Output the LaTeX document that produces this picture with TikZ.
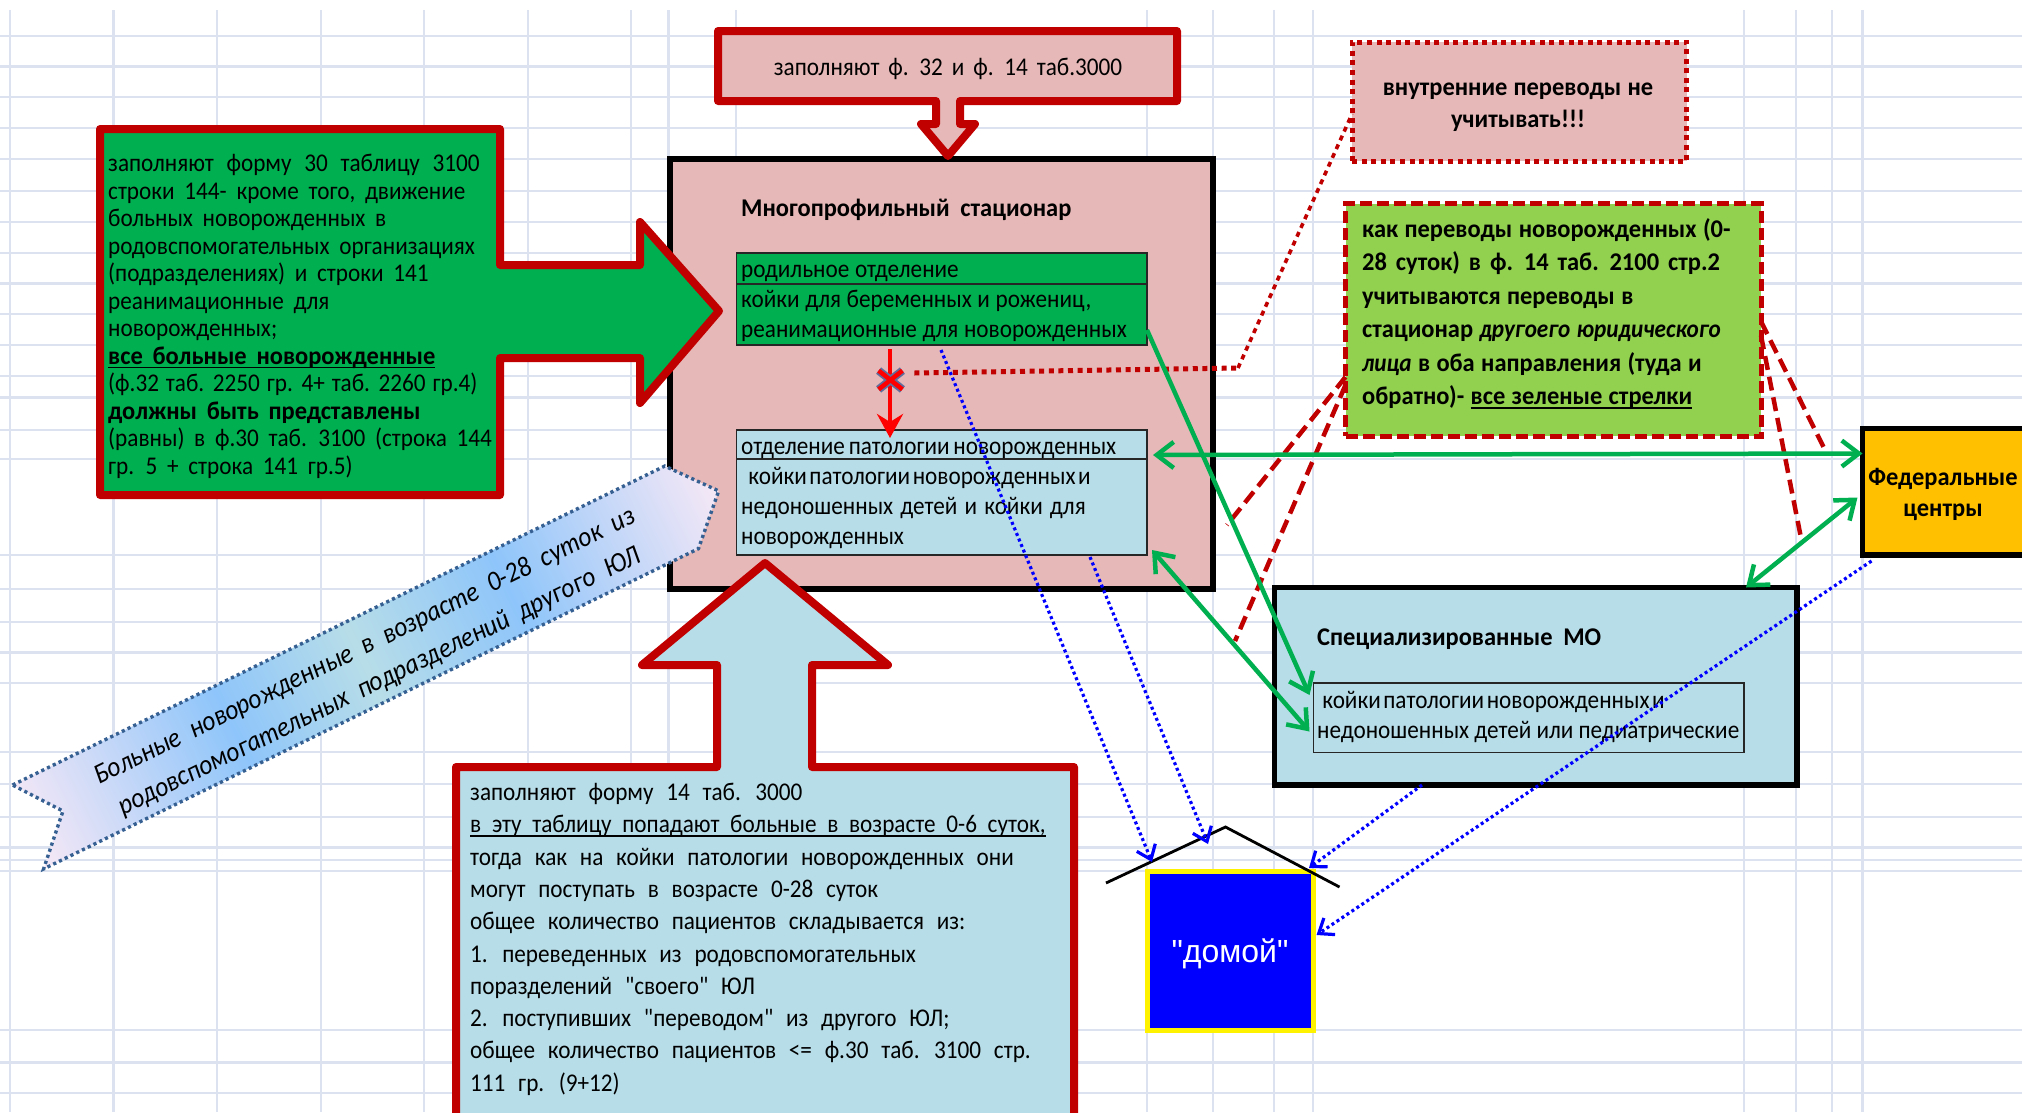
\documentclass[tikz,border=0pt]{standalone}
\usepackage{fontspec}
\setmainfont{Carlito}[FakeStretch=0.91,BoldFeatures={FakeStretch=0.96}]
\newfontfamily\arialfont{Liberation Sans}
\newfontfamily\plainfam{Carlito}[FakeStretch=0.91]
\usetikzlibrary{arrows.meta}
\usetikzlibrary{shapes.misc}
\definecolor{gridline}{HTML}{DCE2EF}
\definecolor{cardred}{HTML}{C00000}
\definecolor{rosefill}{HTML}{E6B8B7}
\definecolor{leaf}{HTML}{00B050}
\definecolor{lime}{HTML}{92D050}
\definecolor{sky}{HTML}{B7DDE8}
\definecolor{amber}{HTML}{FFC000}
\definecolor{slate}{HTML}{366092}
\definecolor{crossedge}{HTML}{5F6C9C}
\definecolor{fadeend}{HTML}{F6E8F6}
\definecolor{fademid}{HTML}{8EC5FA}
\newcommand{\ultext}[1]{\leavevmode\setbox0\hbox{#1}\rlap{\vrule height -2.6pt depth 4.4pt width \wd0}\box0}
\newcommand{\sizedfont}[3]{\fontsize{#1}{#2}\selectfont\spaceskip #3\relax}
\newcommand{\wsp}[2]{{\spaceskip #1\relax #2}}
\newcommand{\sq}{{\plainfam\symbol{34}}}
\pgfdeclarehorizontalshading{ribbonfade}{100bp}{color(0bp)=(fadeend); color(25bp)=(fadeend); color(40bp)=(fademid); color(49.5bp)=(sky); color(60bp)=(fademid); color(75bp)=(fadeend); color(100bp)=(fadeend)}
\tikzset{
  plainbox/.style={rectangle,anchor=north west,inner sep=0pt,outer sep=0pt},
  blackbox/.style={plainbox,draw=black,line width=5.5pt},
  tablebox/.style={plainbox,draw=black!85,line width=1.8pt},
  callout/.style={draw=cardred,line width=8pt,line join=round},
  txt/.style={anchor=north west,inner sep=0pt,align=left,font=\sizedfont{25.5}{27.5}{.38em}},
  boldtxt/.style={txt,font=\sizedfont{25.5}{27.5}{.42em}\bfseries},
  dottedred/.style={draw=cardred,dash pattern=on 5pt off 4.6pt},
  dashedred/.style={draw=cardred,line width=4.5pt,dash pattern=on 14pt off 7pt},
  greenline/.style={draw=leaf,line width=4.5pt},
  greenone/.style={greenline,-{Straight Barb[length=17pt,width=26pt]}},
  greenboth/.style={greenline,{Straight Barb[length=17pt,width=26pt]}-{Straight Barb[length=17pt,width=26pt]}},
  bluedot/.style={draw=blue,line width=3.2pt,dash pattern=on 3pt off 3pt,-{Straight Barb[length=13pt,width=20pt]}}
}
\begin{document}
\begin{tikzpicture}[x=1pt,y=-1pt]
\clip (0,0) rectangle (2022,1112);
\fill[white] (0,0) rectangle (2022,1112);
% grid of the sheet
\foreach \gy in {36,66.5,97,128,159,191,222,253,283.5,314,345,376,397.5,430,459,555,589,622,652.5,683,752,784,817,847.5,860,871,1030,1062.5,1093}
  \draw[gridline,line width=2.4pt] (0,\gy) -- (2022,\gy);
\foreach \gx in {10,113.5,217,321,424,528,631,668.5,736,1147,1213,1274,1313,1744,1796,1832,1862.5}
  \draw[gridline,line width=2.4pt] (\gx,10) -- (\gx,1112);

% hospital
\node[blackbox,fill=rosefill,minimum width=543pt,minimum height=430pt] (hospital) at (670,159) {};
\node[boldtxt] (hospitaltitle) at (741,199) {Многопрофильный  стационар};
\node[tablebox,fill=leaf,minimum width=410.5pt,minimum height=92pt] (birthtbl) at (736.5,253) {};
\draw[black!85,line width=1.8pt] ([yshift=-31pt]birthtbl.north west) -- ([yshift=-31pt]birthtbl.north east);
\node[txt,font=\sizedfont{25.5}{30}{.22em}] (birthtxt) at (741,265) {родильное  отделение\\койки  для  беременных  и  рожениц,\\реанимационные  для  новорожденных};
\node[tablebox,fill=sky,minimum width=410.5pt,minimum height=125pt] (pathtbl) at (736.5,430) {};
\draw[black!85,line width=1.8pt] ([yshift=-29pt]pathtbl.north west) -- ([yshift=-29pt]pathtbl.north east);
\node[txt,font=\sizedfont{25.5}{30}{.28em}] (pathtxt) at (741,442) {\wsp{.15em}{отделение  патологии  новорожденных}\\\ \wsp{.1em}{койки патологии новорожденных и}\\недоношенных детей  и  койки  для\\новорожденных};

% green callout
\draw[callout,fill=leaf] (100,129) -- (500,129) -- (500,265) -- (640,265) -- (640,222) -- (719,311) -- (640,403) -- (640,358) -- (500,358) -- (500,495) -- (100,495) -- cycle;
\node[txt] (formthirty) at (108,154) {\wsp{.5em}{заполняют  форму  30  таблицу  3100}\\строки 144- кроме  того,  движение\\больных  новорожденных  в\\родовспомогательных  организациях\\(подразделениях)  и  строки  141\\реанимационные  для\\новорожденных;\\\textbf{\ultext{все  больные   новорожденные}}\\\wsp{.27em}{(ф.32 таб. 2250  гр. 4+ таб. 2260 гр.4)}\\\textbf{должны  быть  представлены}\\(равны)  в  ф.30 таб. 3100 (строка 144\\гр. 5  +  строка  141 гр.5)};

% top callout
\draw[callout,fill=rosefill] (718,31) -- (1177,31) -- (1177,101) -- (960,101) -- (960,124) -- (975,124) -- (948,156) -- (921,124) -- (936,124) -- (936,101) -- (718,101) -- cycle;
\node[txt,anchor=center,font=\sizedfont{25.5}{27.5}{.35em}] (formtop) at (948,69) {заполняют ф. 32  и  ф. 14  таб.3000};

% bottom callout
\draw[callout,fill=sky] (456,1130) -- (456,767) -- (717,767) -- (717,665) -- (642,665) -- (765,563) -- (888,665) -- (812,665) -- (812,767) -- (1074,767) -- (1074,1130) -- cycle;
\node[txt,font=\sizedfont{25.5}{32.3}{.5em}] (formfourteen) at (470,783) {заполняют форму 14  таб.  3000\\\wsp{.42em}{\ultext{в эту таблицу попадают больные в возрасте 0-6 суток,}}\\тогда как  на койки патологии новорожденных они\\могут поступать в возрасте  0-28 суток\\общее количество пациентов складывается из:\\1.  переведенных из родовспомогательных\\поразделений \sq своего\sq{} ЮЛ\\2. поступивших \sq переводом\sq{} из другого  ЮЛ;\\общее количество пациентов <=  ф.30 таб. 3100  стр.\\111  гр. (9+12)};

% ribbon
\begin{scope}[transform canvas={shift={(12.6,785)},rotate=26.06}]
\shade[shading=ribbonfade] (0,0) -- (726,0) -- (763.5,46) -- (720,89) -- (-9,89) -- (33.8,45.5) -- cycle;
\draw[slate,line width=3.4pt,dash pattern=on 3.2pt off 3.2pt] (0,0) -- (726,0) -- (763.5,46) -- (720,89) -- (-9,89) -- (33.8,45.5) -- cycle;
\end{scope}
\node[rotate=26.06,inner sep=0pt,font=\sizedfont{28}{30}{.42em}\itshape] (ribbonone) at (365,647) {Больные  новорожденные  в  возрасте  0-28 суток  из};
\node[rotate=26.06,inner sep=0pt,font=\sizedfont{28}{30}{.42em}\itshape] (ribbontwo) at (380,682) {родовспомогательных  подразделений  другого  ЮЛ};

% note boxes
\node[plainbox,dottedred,line width=5pt,fill=rosefill,minimum width=334.5pt,minimum height=119pt] (internal) at (1352,42) {};
\node[boldtxt,anchor=center,align=center,font=\sizedfont{25.5}{32}{.24em}\bfseries] (internaltxt) at (1518,107) {внутренние переводы не\\учитывать!!!};
\node[plainbox,draw=cardred,line width=5pt,dash pattern=on 12pt off 5pt,fill=lime,minimum width=415.5pt,minimum height=232.5pt] (transfer) at (1345.5,203.5) {};
\node[boldtxt,font=\sizedfont{25.5}{33.5}{.25em}\bfseries] (transfertxt) at (1362,218) {как  переводы новорожденных  (0-\\\wsp{.35em}{28 суток) в  ф. 14 таб. 2100 стр.2}\\учитываются переводы  в\\стационар \textit{другоего юридического}\\\textit{лица}  в  оба  направления (туда и\\обратно)- \ultext{все  зеленые  стрелки}};

% federal and specialized
\node[blackbox,fill=amber,minimum width=200pt,minimum height=126.5pt] (fed) at (1862.5,428.5) {};
\node[boldtxt,anchor=center,align=center,font=\sizedfont{25.5}{31}{.3em}\bfseries] (fedtxt) at (1943,494) {Федеральные\\центры};
\node[blackbox,fill=sky,minimum width=522.5pt,minimum height=197.5pt] (spec) at (1274.5,587.5) {};
\node[boldtxt] (spectitle) at (1317,629) {Специализированные  МО};
\node[tablebox,minimum width=430.5pt,minimum height=69.5pt] (specinner) at (1313.5,683) {};
\node[txt,font=\sizedfont{25.5}{30}{.2em}] (specinnertxt) at (1317,691) {\ \wsp{.1em}{койки патологии новорожденных и}\\недоношенных детей или  педиатрические};

% home
\node[plainbox,draw=yellow,line width=5pt,fill=blue,minimum width=166.5pt,minimum height=159pt] (home) at (1147,871) {};
\node[inner sep=0pt,font=\arialfont\fontsize{32}{36}\selectfont,text=white] (hometxt) at (1230,954) {\symbol{34}домой\symbol{34}};
\coordinate (roofleft) at (1106,883);
\coordinate (rooftop) at (1225.5,827);
\coordinate (roofright) at (1339.5,887);
\draw[black,line width=2.8pt] (roofleft) -- (rooftop) -- (roofright);

% red arrow with the cross
\draw[red,line width=4.5pt,-{Stealth[length=24pt,width=26pt,inset=8pt]}] ([xshift=153.5pt,yshift=-4pt]birthtbl.south west) -- ([xshift=153.5pt,yshift=-8pt]pathtbl.north west);
\node[cross out,draw=crossedge,double=red,double distance=4.5pt,line width=1.8pt,minimum width=22pt,minimum height=17pt,inner sep=0pt] (crossmark) at (890.5,380) {};

% dotted line to the note
\coordinate (bendnote) at (1238,368);
\draw[dottedred,line width=5pt] ([shift={(12pt,7pt)}]crossmark.east) -- (bendnote);
\draw[dottedred,line width=3.6pt] (bendnote) -- ([yshift=-72pt]internal.north west);

% dashed lines from the green note
\coordinate (dashA) at (1227,525);
\coordinate (dashB) at (1235,641);
\coordinate (dashC) at (1825,450);
\coordinate (dashD) at (1802,543);
\draw[dashedred] ([yshift=59pt]transfer.south west) -- (dashA);
\draw[dashedred] ([yshift=51pt]transfer.south west) -- (dashB);
\draw[dashedred] ([yshift=-118pt]transfer.north east) -- (dashC);
\draw[dashedred] ([yshift=-132pt]transfer.north east) -- (dashD);

% green arrows
\draw[greenone] ([yshift=-31pt]birthtbl.east) -- ([shift={(-4pt,-12pt)}]specinner.north west);
\draw[greenboth] ([shift={(6pt,-25pt)}]pathtbl.north east) -- ([yshift=-25pt]fed.north west);
\draw[greenboth] ([shift={(5pt,5pt)}]pathtbl.south east) -- ([shift={(-4pt,21pt)}]specinner.south west);
\draw[greenboth] ([xshift=-51pt]spec.north east) -- ([shift={(-5pt,-69pt)}]fed.north west);

% blue arrows to home
\coordinate (homeleft) at (1152,862);
\coordinate (homemid) at (1208,844);
\coordinate (homeright) at (1309,868);
\draw[bluedot] ([shift={(204.5pt,-5pt)}]birthtbl.south west) -- (homeleft);
\draw[bluedot] ([shift={(353.5pt,-2pt)}]pathtbl.south west) -- (homemid);
\draw[bluedot] ([xshift=147.5pt]spec.south west) -- (homeright);
\draw[bluedot] ([shift={(9pt,-6pt)}]fed.south west) -- ([shift={(3pt,15.5pt)}]home.east);
\end{tikzpicture}
\end{document}
